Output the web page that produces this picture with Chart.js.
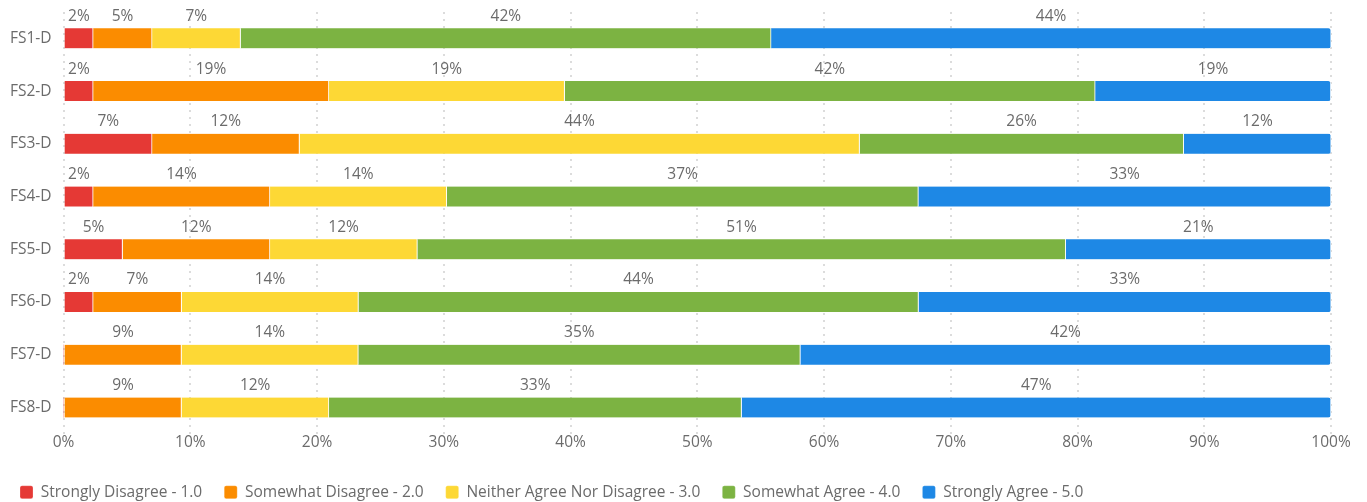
<!DOCTYPE html>
<html>
<head>
<meta charset="utf-8">
<script src="https://cdn.jsdelivr.net/npm/chart.js@4"></script>
<style>
  html, body { margin: 0; padding: 0; background: #fff; }
  #wrap { width: 1367px; height: 502px; }
</style>
</head>
<body>
<div id="wrap"><canvas id="chart"></canvas></div>
<script>
// categories
var statements = ["FS1-D", "FS2-D", "FS3-D", "FS4-D", "FS5-D", "FS6-D", "FS7-D", "FS8-D"];

// answer share per statement, in percent
var stronglyDisagree = [2.33, 2.33, 6.98, 2.33, 4.65, 2.33, 0, 0];
var somewhatDisagree = [4.65, 18.60, 11.63, 13.95, 11.63, 6.98, 9.30, 9.30];
var neitherAgree     = [6.98, 18.60, 44.19, 13.95, 11.63, 13.95, 13.95, 11.63];
var somewhatAgree    = [41.86, 41.86, 25.58, 37.21, 51.16, 44.19, 34.88, 32.56];
var stronglyAgree    = [44.19, 18.60, 11.63, 32.56, 20.93, 32.56, 41.86, 46.51];

var xTicks = [0, 10, 20, 30, 40, 50, 60, 70, 80, 90, 100];

var FONT = "'Open Sans', sans-serif";
var GREY = "#6b6b6b";

// percentage label above every segment
var segmentLabels = {
    id: "segmentLabels",
    beforeInit: function (chart) {
        // legend sits a bit lower than chart.js would put it
        if (chart.legend) {
            var fit = chart.legend.fit;
            chart.legend.fit = function () {
                fit.call(this);
                this.height -= 8;
            };
        }
    },
    afterDatasetsDraw: function (chart) {
        var ctx = chart.ctx;
        ctx.save();
        ctx.font = "15.5px " + FONT;
        ctx.fillStyle = GREY;
        ctx.textAlign = "center";
        ctx.textBaseline = "middle";
        chart.data.datasets.forEach(function (ds, i) {
            var meta = chart.getDatasetMeta(i);
            meta.data.forEach(function (bar, j) {
                var v = ds.data[j];
                if (!v) return;
                var cx = (bar.x + bar.base) / 2;
                ctx.fillText(Math.round(v) + "%", cx, bar.y - bar.height / 2 - 12);
            });
        });
        ctx.restore();
    }
};

function makeSet(label, data, color, last) {
    return {
        label: label,
        data: data,
        backgroundColor: color,
        borderColor: "#fff",
        borderWidth: function (c) { return c.raw ? { right: 1 } : 0; },
        borderSkipped: "start",
        borderRadius: last ? 3 : 0,
        barThickness: 20
    };
}

var ctx = document.getElementById("chart").getContext("2d");
var myChart = new Chart(ctx, {
    type: "bar",
    data: {
        labels: statements,
        datasets: [
            makeSet("Strongly Disagree - 1.0", stronglyDisagree, "#e53935"),
            makeSet("Somewhat Disagree - 2.0", somewhatDisagree, "#fb8c00"),
            makeSet("Neither Agree Nor Disagree - 3.0", neitherAgree, "#fdd835"),
            makeSet("Somewhat Agree - 4.0", somewhatAgree, "#7cb342"),
            makeSet("Strongly Agree - 5.0", stronglyAgree, "#1e88e5", true)
        ]
    },
    options: {
        indexAxis: "y",
        responsive: true,
        maintainAspectRatio: false,
        animation: false,
        layout: { padding: { left: -2, right: 36, top: 12, bottom: 0 } },
        scales: {
            x: {
                stacked: true,
                min: 0,
                max: 100,
                afterBuildTicks: function (axis) {
                    axis.ticks = xTicks.map(function (v) { return { value: v }; });
                },
                afterFit: function (axis) { axis.height += 12; },
                ticks: {
                    color: GREY,
                    font: { family: FONT, size: 15.5 },
                    padding: -1,
                    callback: function (v) { return v + "%"; }
                },
                grid: {
                    color: "#dcdcdc",
                    lineWidth: 2,
                    drawTicks: false
                },
                border: { display: false, dash: [2, 5] }
            },
            y: {
                stacked: true,
                afterFit: function (axis) { axis.paddingTop = 0; axis.paddingBottom = 0; },
                ticks: {
                    color: GREY,
                    font: { family: FONT, size: 15.5 },
                    padding: 12
                },
                grid: { display: false, drawTicks: false },
                border: { display: false }
            }
        },
        plugins: {
            legend: {
                position: "bottom",
                align: "start",
                labels: {
                    color: GREY,
                    font: { family: FONT, size: 15.5 },
                    boxWidth: 13,
                    boxHeight: 13,
                    padding: 22,
                    useBorderRadius: true,
                    borderRadius: 2
                }
            },
            tooltip: { enabled: false }
        }
    },
    plugins: [segmentLabels]
});
</script>
</body>
</html>
